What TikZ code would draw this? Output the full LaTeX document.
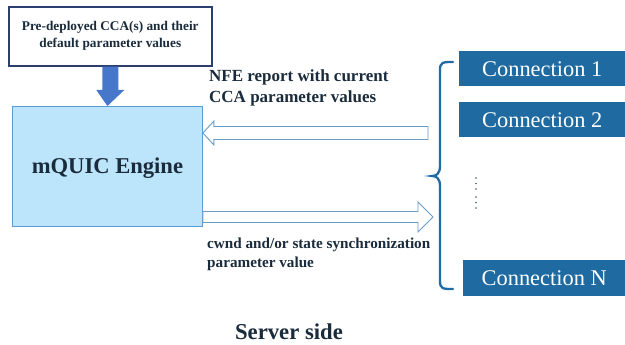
\documentclass[tikz,border=0pt]{standalone}
\usepackage{fontspec}
\setmainfont{Liberation Serif}
\usetikzlibrary{calc,decorations.pathreplacing}
\definecolor{inkdark}{HTML}{1A2B3C}
\definecolor{navyline}{HTML}{2C3E6E}
\definecolor{enginefill}{HTML}{BCE4FA}
\definecolor{engineline}{HTML}{5B9BD5}
\definecolor{hollowline}{HTML}{6A9CC8}
\definecolor{connfill}{HTML}{1F6AA0}
\definecolor{bracecol}{HTML}{1F6BA5}
\definecolor{downblue}{HTML}{4677CB}
\tikzset{
  inputbox/.style={draw=navyline,line width=1.6pt,fill=white,inner sep=0pt},
  enginebox/.style={draw=engineline,line width=0.9pt,fill=enginefill,inner sep=0pt},
  connbox/.style={fill=connfill,text=white,inner sep=0pt,font=\fontsize{22.4}{26}\selectfont},
  hollow/.style={draw=hollowline,line width=0.9pt,fill=white,line join=miter},
  lbl/.style={text=inkdark,font=\bfseries\fontsize{17}{20.5}\selectfont,align=left,anchor=north west,inner sep=0pt}
}
\begin{document}
\begin{tikzpicture}[x=1pt,y=-1pt]
\useasboundingbox (0,0) rectangle (625,345);

% input box with the pre-deployed algorithms
\node[inputbox,minimum width=203pt,minimum height=59pt,anchor=north west,
      text=inkdark,font=\bfseries\fontsize{13.3}{17}\selectfont,align=center]
  (pre) at (8,6) {Pre-deployed CCA(s) and their\\default parameter values};

% engine block
\node[enginebox,minimum width=190pt,minimum height=120pt,anchor=north west,
      text=inkdark,font=\bfseries\fontsize{22.6}{26}\selectfont,text depth=2pt]
  (eng) at (12,106) {mQUIC Engine};

% solid blue arrow from the input box down to the engine
\fill[downblue] let \p1=(pre.south), \p2=(eng.north) in
  (\x1-8pt,\y1) -- (\x1+8pt,\y1) -- (\x1+8pt,\y2+16pt) -- (\x1+14pt,\y2+16pt)
  -- (\x2,\y2) -- (\x1-14pt,\y2+16pt) -- (\x1-8pt,\y2+16pt) -- cycle;

% connection blocks
\node[connbox,minimum width=166pt,minimum height=35pt,anchor=north west]
  (c1) at (459,51) {Connection 1};
\node[connbox,minimum width=166pt,minimum height=35pt,anchor=north west]
  (c2) at (459,102) {Connection 2};
\node[connbox,minimum width=162pt,minimum height=36pt,anchor=north west]
  (cn) at (463,260) {Connection N};

% brace grouping the connections
\coordinate (btop) at (453,62);
\coordinate (bbot) at (453,289);
\coordinate (bmid) at (432,176);
\draw[bracecol,line width=2.3pt,line cap=round]
  (btop) .. controls (443,62) and (440,62) .. (440,70)
  -- (440,166) .. controls (440,174) and (436,176) .. (bmid)
  .. controls (436,176) and (440,178) .. (440,186)
  -- (440,281) .. controls (440,289) and (443,289) .. (bbot);

% vertical ellipsis between Connection 2 and Connection N
\foreach \yy in {178,183.5,189,197,202.5,208}
  \fill[inkdark!80] (476,\yy) circle (0.9pt);

% report arrow: connections -> engine
\coordinate (rtail) at (428,133);
\coordinate (rtip) at (eng.east |- rtail);
\draw[hollow] let \p1=(rtail), \p2=(rtip) in
  (\x1,\y1+6.5pt) -- (\x2+11pt,\y1+6.5pt) -- (\x2+11pt,\y1+12pt) -- (\x2,\y1)
  -- (\x2+11pt,\y1-12pt) -- (\x2+11pt,\y1-6.5pt) -- (\x1,\y1-6.5pt) -- cycle;

% synchronization arrow: engine -> connections
\coordinate (stip) at (433,217);
\coordinate (stail) at (eng.east |- stip);
\draw[hollow] let \p1=(stail), \p2=(stip) in
  (\x1,\y1+5.5pt) -- (\x2-15pt,\y1+5.5pt) -- (\x2-15pt,\y1+15pt) -- (\x2,\y1)
  -- (\x2-15pt,\y1-15pt) -- (\x2-15pt,\y1-5.5pt) -- (\x1,\y1-5.5pt) -- cycle;

% arrow labels
\node[lbl] (rlabel) at (209,70) {NFE report with current\\CCA parameter values};
\node[lbl,font=\bfseries\fontsize{15.2}{18.5}\selectfont] (slabel) at (207,238)
  {cwnd and/or state synchronization\\parameter value};

% caption
\node[text=inkdark,font=\bfseries\fontsize{22.7}{26}\selectfont] (side) at (289,332) {Server side};
\end{tikzpicture}
\end{document}
